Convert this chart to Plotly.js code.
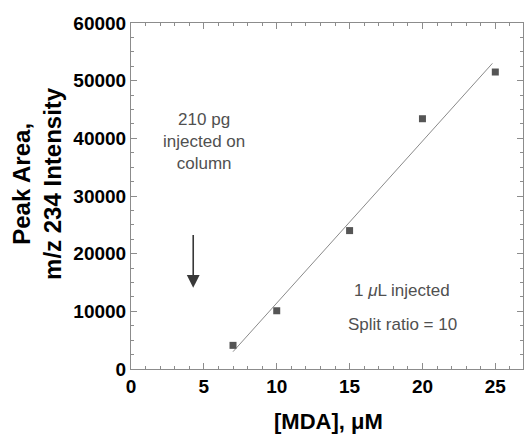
<!DOCTYPE html>
<html>
<head>
<meta charset="utf-8">
<script src="https://cdn.plot.ly/plotly-3.0.1.min.js"></script>
<style>html,body{margin:0;padding:0;background:#fff;}#chart{width:524px;height:437px;}</style>
</head>
<body>
<div id="chart"></div>
<script>
// Data
const mdaConc = [7, 10, 15, 20, 25];            // [MDA], µM
const peakArea = [4100, 10100, 24000, 43400, 51500]; // m/z 234 peak area
const fitX = [7, 24.8];                          // ends of the drawn calibration line
const fitY = [3000, 53000];
const xTicks = [0, 5, 10, 15, 20, 25];
const yTicks = [0, 10000, 20000, 30000, 40000, 50000, 60000];
const arrowX = 4.27, arrowTailY = 23500, arrowTipY = 14100;

const FONT = 'Arial, "Liberation Sans", Helvetica, sans-serif';
const AX = '#8c8c8c';

const traces = [
  {x: fitX, y: fitY, mode: 'lines', type: 'scatter',
   line: {color: '#8a8a8a', width: 1}, hoverinfo: 'skip', showlegend: false},
  {x: mdaConc, y: peakArea, mode: 'markers', type: 'scatter',
   marker: {symbol: 'square', size: 7, color: '#555555'}, showlegend: false}
];

const axisCommon = {
  showgrid: false, zeroline: false, showline: true, linecolor: AX, linewidth: 1,
  mirror: 'ticks', ticks: 'inside', ticklen: 6, tickwidth: 1, tickcolor: AX,
  tickfont: {family: FONT, size: 19, color: '#000', weight: 'bold'}
};

const layout = {
  width: 524, height: 437,
  margin: {l: 131, r: 1, t: 23, b: 68, pad: 0},
  paper_bgcolor: '#fff', plot_bgcolor: '#fff',
  font: {family: FONT},
  showlegend: false,
  xaxis: Object.assign({}, axisCommon, {
    range: [0, 26.9], tickvals: xTicks, ticktext: xTicks.map(String),
    minor: {dtick: 1, tick0: 0, ticks: 'inside', ticklen: 3, tickcolor: AX}
  }),
  yaxis: Object.assign({}, axisCommon, {
    range: [0, 60000], tickvals: yTicks, ticktext: yTicks.map(String),
    minor: {dtick: 2500, tick0: 0, ticks: 'inside', ticklen: 3, tickcolor: AX}
  }),
  annotations: [
    {text: '<b>[MDA], μM</b>', xref: 'paper', yref: 'paper', x: 0.5036, y: -0.152,
     showarrow: false, xanchor: 'center', yanchor: 'middle',
     font: {family: FONT, size: 22, color: '#000'}},
    {text: '<b>Peak Area,<br>m/z 234 Intensity</b>', xref: 'paper', yref: 'paper',
     x: -0.24, y: 0.5376, textangle: -90, showarrow: false,
     xanchor: 'center', yanchor: 'middle',
     font: {family: FONT, size: 24, color: '#000'}},
    {text: '210 pg<br>injected on<br>column', xref: 'x', yref: 'y', x: 5.0, y: 39530,
     showarrow: false, xanchor: 'center', yanchor: 'middle',
     font: {family: FONT, size: 17, color: '#505050'}},
    {text: '1 <i>μ</i>L injected', xref: 'x', yref: 'y', x: 18.6, y: 13580,
     showarrow: false, xanchor: 'center', yanchor: 'middle',
     font: {family: FONT, size: 17, color: '#505050'}},
    {text: 'Split ratio = 10', xref: 'x', yref: 'y', x: 18.6, y: 7800,
     showarrow: false, xanchor: 'center', yanchor: 'middle',
     font: {family: FONT, size: 17, color: '#505050'}},
    {text: '', xref: 'x', yref: 'y', x: arrowX, y: arrowTipY,
     axref: 'x', ayref: 'y', ax: arrowX, ay: arrowTailY,
     showarrow: true, arrowhead: 2, arrowsize: 1.6, arrowwidth: 1.6,
     arrowcolor: '#383838', standoff: 0, startstandoff: 0}
  ]
};

Plotly.newPlot('chart', traces, layout, {displayModeBar: false, staticPlot: true});
</script>
</body>
</html>
